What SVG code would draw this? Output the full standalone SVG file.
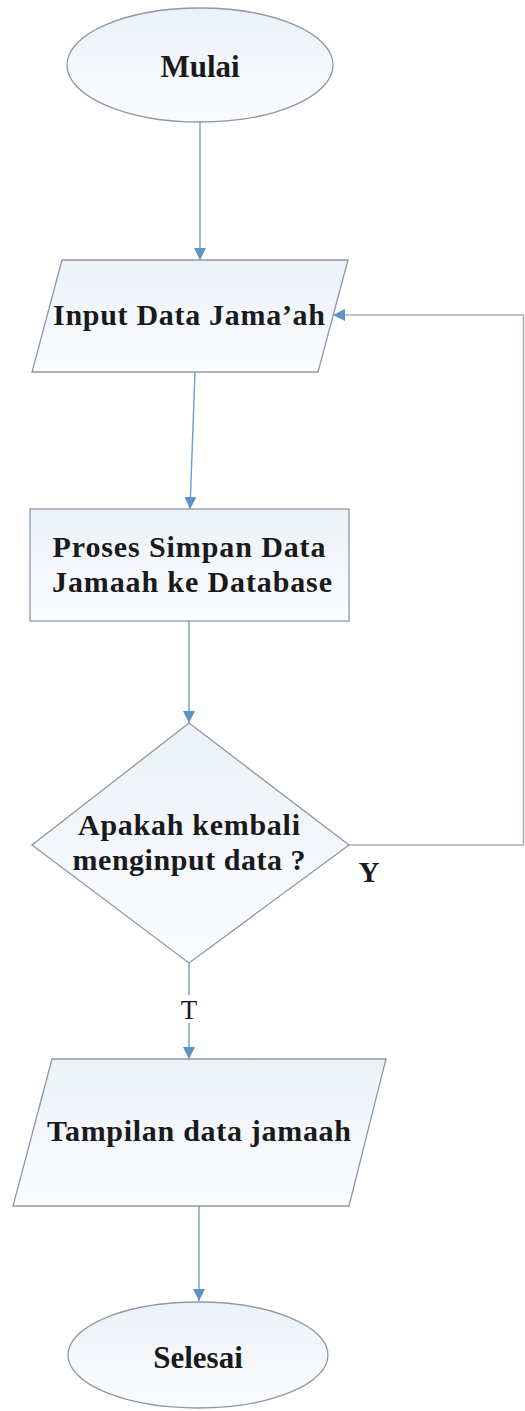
<svg xmlns="http://www.w3.org/2000/svg" width="525" height="1411" viewBox="0 0 525 1411">
<style>
.shape{fill:url(#fillg);stroke:#8d99a8;stroke-width:1.3}
.lbl{font-family:"Liberation Serif","Times New Roman",serif;font-weight:bold;fill:#1a1a1a;text-anchor:middle}
.conn{fill:none;stroke:#6f9cc8;stroke-width:1.4}
.loop{fill:none;stroke:#a9b1bb;stroke-width:1.6}
</style>
<defs>
<linearGradient id="fillg" x1="0" y1="0" x2="0" y2="1">
<stop offset="0" stop-color="#ecf2f9"/>
<stop offset="1" stop-color="#fbfcfe"/>
</linearGradient>
<marker id="arr" markerWidth="12" markerHeight="12" refX="12" refY="6" orient="auto" markerUnits="userSpaceOnUse">
<path d="M0,0 L12,6 L0,12 Z" fill="#5b93c6"/>
</marker>
</defs>
<rect width="525" height="1411" fill="#ffffff"/>
<g id="connectors">
<path class="conn" d="M200,122 L200,260" marker-end="url(#arr)"/>
<path class="conn" d="M195,372 L190,509" marker-end="url(#arr)"/>
<path class="conn" d="M189,621 L189,723" marker-end="url(#arr)"/>
<path class="conn" d="M189,963 L189,1059" marker-end="url(#arr)"/>
<path class="conn" d="M199,1206 L199,1301" marker-end="url(#arr)"/>
<path class="loop" d="M349,845 L523.5,845 L523.5,315 L345,315"/>
<path class="conn" d="M345,315 L333,315" marker-end="url(#arr)"/>
<rect x="180" y="995" width="18" height="28" fill="#ffffff"/>
<text x="189" y="1019" font-family="Liberation Serif, Times New Roman, serif" font-size="27" fill="#1a1a1a" text-anchor="middle">T</text>
<text x="369" y="882" class="lbl" font-size="29">Y</text>
</g>
<g id="mulai">
<ellipse class="shape" cx="200" cy="65" rx="133" ry="57"/>
<text class="lbl" x="200" y="77" font-size="31">Mulai</text>
</g>
<g id="input">
<polygon class="shape" points="62,260 348,260 318,372 32,372"/>
<text class="lbl" x="189" y="325" font-size="30" textLength="272" lengthAdjust="spacing">Input Data Jama’ah</text>
</g>
<g id="proses">
<rect class="shape" x="30" y="509" width="319" height="112"/>
<text class="lbl" x="189" y="557" font-size="30" textLength="273" lengthAdjust="spacing">Proses Simpan Data</text>
<text class="lbl" x="192" y="592" font-size="30" textLength="280" lengthAdjust="spacing">Jamaah ke Database</text>
</g>
<g id="keputusan">
<polygon class="shape" points="189,723 349,845 189,963 32,845"/>
<text class="lbl" x="189" y="835" font-size="30" textLength="222" lengthAdjust="spacing">Apakah kembali</text>
<text class="lbl" x="189" y="870" font-size="30" textLength="233" lengthAdjust="spacing">menginput data ?</text>
</g>
<g id="tampilan">
<polygon class="shape" points="52,1059 386,1059 349,1206 13,1206"/>
<text class="lbl" x="199" y="1141" font-size="30" textLength="304" lengthAdjust="spacing">Tampilan data jamaah</text>
</g>
<g id="selesai">
<ellipse class="shape" cx="198" cy="1355" rx="130" ry="53"/>
<text class="lbl" x="198" y="1368" font-size="31">Selesai</text>
</g>
</svg>
